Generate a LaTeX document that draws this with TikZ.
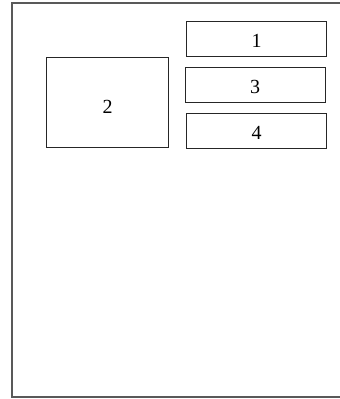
\documentclass[tikz,border=0pt]{standalone}
\usepackage{fontspec}
\setmainfont{Liberation Serif}
\begin{document}
\begin{tikzpicture}[x=1pt,y=-1pt,
  box/.style={draw=black!85, line width=0.9pt},
  lbl/.style={inner sep=0pt, font=\fontsize{20}{20}\selectfont, yshift=-2pt}]
\useasboundingbox (0,0) rectangle (340,399);
\begin{scope}
\clip (0,0) rectangle (340,399);
\draw[draw=black!65, line width=1.6pt] (12,3) rectangle (360,397);
\end{scope}
\draw[box] (186.5,21) rectangle node[lbl] (n1) {1} (326.5,56.5);
\draw[box] (185,67) rectangle node[lbl] (n3) {3} (325,102);
\draw[box] (186.5,113.5) rectangle node[lbl] (n4) {4} (326.5,148);
\draw[box] (46.5,57) rectangle node[lbl, yshift=-2.5pt] (n2) {2} (168.5,147);
\end{tikzpicture}
\end{document}
